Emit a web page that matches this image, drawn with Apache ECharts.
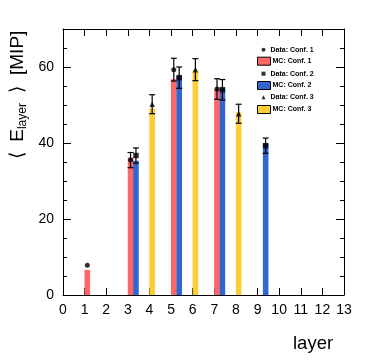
<!DOCTYPE html>
<html>
<head>
<meta charset="utf-8">
<script src="https://cdn.jsdelivr.net/npm/echarts@6/dist/echarts.min.js"></script>
<style>
  html, body { margin: 0; padding: 0; background: #fff; }
  #chart { width: 374px; height: 361px; }
</style>
</head>
<body>
<div id="chart"></div>
<script>
var myChart = echarts.init(document.getElementById('chart'));

// MC means (bars), per configuration: [layer, value]
var mcConf1 = [[1, 6.6], [3, 36.2], [5, 56.8], [7, 54.2]];
var mcConf2 = [[3, 35.3], [5, 57.6], [7, 54.6], [9, 39.9]];
var mcConf3 = [[4, 49.1], [6, 59.1], [8, 48.1]];

// data points: [layer, value, error]
var dataConf1 = [[1, 7.8, 0.3], [3, 35.5, 2.0], [5, 59.3, 3.0], [7, 54.2, 2.7]];
var dataConf2 = [[3, 36.7, 2.0], [5, 57.2, 2.8], [7, 54.0, 2.7], [9, 39.3, 2.0]];
var dataConf3 = [[4, 50.2, 2.5], [6, 59.3, 2.9], [8, 47.7, 2.5]];

// bin offsets inside a layer (conf 1 & 3 left half, conf 2 right half)
var offsetLeft = 0.125;
var offsetRight = 0.375;

var FONT = 'Liberation Sans';

function shift(list, off) {
    return list.map(function (d) {
        var r = d.slice();
        r[0] = d[0] + off;
        return r;
    });
}

function errorBars(params, api) {
    var x = api.value(0), y = api.value(1), e = api.value(2);
    var hi = api.coord([x, y + e]);
    var lo = api.coord([x, y - e]);
    // like ROOT: error smaller than the marker is hidden
    if (lo[1] - hi[1] < 6) {
        return null;
    }
    var style = {stroke: '#000', lineWidth: 1.2};
    return {
        type: 'group',
        children: [
            {type: 'line', shape: {x1: hi[0], y1: hi[1], x2: lo[0], y2: lo[1]}, style: style},
            {type: 'line', shape: {x1: hi[0] - 3, y1: hi[1], x2: hi[0] + 3, y2: hi[1]}, style: style},
            {type: 'line', shape: {x1: lo[0] - 3, y1: lo[1], x2: lo[0] + 3, y2: lo[1]}, style: style}
        ]
    };
}

function barSeries(name, list, off, color) {
    return {
        name: name,
        type: 'bar',
        data: shift(list, off),
        barWidth: 5.6,
        barGap: '-100%',
        itemStyle: {color: color},
        z: 1
    };
}

function pointSeries(name, list, off, symbol, size) {
    return {
        name: name,
        type: 'scatter',
        data: shift(list, off),
        symbol: symbol,
        symbolSize: size,
        itemStyle: {color: '#000'},
        z: 4
    };
}

function errSeries(list, off) {
    return {
        type: 'custom',
        renderItem: errorBars,
        data: shift(list, off),
        z: 3
    };
}

function legendEntry(name, top, isBox) {
    return {
        data: [isBox ? {name: name, icon: 'rect'} : name],
        orient: 'vertical',
        left: isBox ? 257 : 261.5,
        top: top,
        itemWidth: isBox ? 13 : 4,
        itemHeight: isBox ? 8 : 4,
        selectedMode: false,
        padding: 0,
        itemStyle: isBox ? {borderColor: '#000', borderWidth: 1} : {},
        textStyle: {
            fontFamily: FONT, fontSize: 7, fontWeight: 'bold', color: '#000',
            lineHeight: 8, padding: isBox ? [0, 0, 0, -3] : 0
        }
    };
}

var axisCommon = {
    axisLine: {show: true, onZero: false, lineStyle: {color: '#000', width: 1}},
    splitLine: {show: false}
};

var option = {
    animation: false,
    grid: {left: 63, right: 30, top: 29, bottom: 66},
    legend: [
        legendEntry('Data: Conf. 1', 45.7, false),
        legendEntry('MC: Conf. 1', 56.7, true),
        legendEntry('Data: Conf. 2', 69.7, false),
        legendEntry('MC: Conf. 2', 81, true),
        legendEntry('Data: Conf. 3', 93.3, false),
        legendEntry('MC: Conf. 3', 105, true)
    ],
    xAxis: [
        Object.assign({
            type: 'value', min: 0, max: 13, interval: 1, position: 'bottom',
            axisTick: {inside: true, length: 7, lineStyle: {color: '#000'}},
            axisLabel: {fontFamily: FONT, fontSize: 14, color: '#000', margin: 8, hideOverlap: false}
        }, axisCommon),
        Object.assign({
            type: 'value', min: 0, max: 13, interval: 1, position: 'top',
            axisTick: {inside: true, length: 7, lineStyle: {color: '#000'}},
            axisLabel: {show: false}
        }, axisCommon)
    ],
    yAxis: [
        Object.assign({
            type: 'value', min: 0, max: 70, interval: 20, position: 'left',
            axisTick: {inside: true, length: 8, lineStyle: {color: '#000'}},
            minorTick: {show: true, splitNumber: 4, length: 4, lineStyle: {color: '#000'}},
            axisLabel: {fontFamily: FONT, fontSize: 14, color: '#000', margin: 9, showMaxLabel: false}
        }, axisCommon),
        Object.assign({
            type: 'value', min: 0, max: 70, interval: 20, position: 'right',
            axisTick: {inside: true, length: 8, lineStyle: {color: '#000'}},
            minorTick: {show: true, splitNumber: 4, length: 4, lineStyle: {color: '#000'}},
            axisLabel: {show: false}
        }, axisCommon)
    ],
    graphic: [
        {
            type: 'text', left: 293, top: 334,
            style: {text: 'layer', fontFamily: FONT, fontSize: 18.5, fill: '#000'}
        },
        {
            type: 'text', x: 18, y: 95, rotation: Math.PI / 2,
            style: {
                text: '⟨  E{s|layer}  ⟩  [MIP]',
                align: 'center', verticalAlign: 'middle',
                fontFamily: FONT, fontSize: 19, fill: '#000',
                rich: {s: {fontFamily: FONT, fontSize: 12, padding: [10, 0, 0, 0], fill: '#000'}}
            }
        }
    ],
    series: [
        barSeries('MC: Conf. 1', mcConf1, offsetLeft, '#ff6666'),
        barSeries('MC: Conf. 2', mcConf2, offsetRight, '#3366cc'),
        barSeries('MC: Conf. 3', mcConf3, offsetLeft, '#ffcc33'),
        errSeries(dataConf1, offsetLeft),
        errSeries(dataConf2, offsetRight),
        errSeries(dataConf3, offsetLeft),
        pointSeries('Data: Conf. 1', dataConf1, offsetLeft, 'circle', 5),
        pointSeries('Data: Conf. 2', dataConf2, offsetRight, 'rect', 5.5),
        pointSeries('Data: Conf. 3', dataConf3, offsetLeft, 'triangle', 5.5)
    ]
};

myChart.setOption(option);
</script>
</body>
</html>
